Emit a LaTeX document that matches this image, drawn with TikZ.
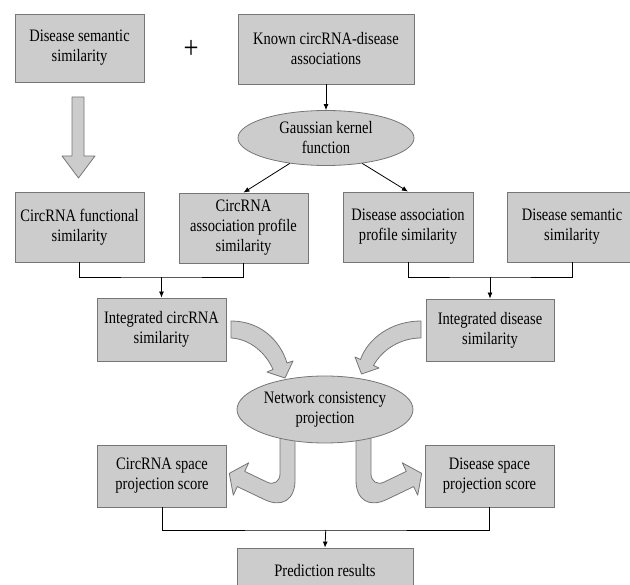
\documentclass[tikz,border=0pt]{standalone}
\usepackage{fontspec}
\setmainfont{Liberation Serif}[FakeStretch=0.83]
\usetikzlibrary{shapes.geometric,arrows.meta}
\definecolor{boxfill}{RGB}{204,204,204}
\definecolor{boxline}{RGB}{118,118,118}
\tikzset{
  box/.style={rectangle, draw=boxline, fill=boxfill, line width=0.8pt, inner sep=0pt, align=center, font=\fontsize{17.5}{20}\selectfont},
  oval/.style={ellipse, draw=boxline, fill=boxfill, line width=0.8pt, inner sep=0pt, align=center, font=\fontsize{17.5}{20}\selectfont},
  blockarrow/.style={draw=boxline, fill=boxfill, line width=0.8pt, line join=round},
  conn/.style={draw=black, line width=0.8pt},
  arr/.style={conn, -{Latex[length=6pt,width=5pt]}}
}
\begin{document}
\begin{tikzpicture}[x=1pt,y=-1pt]
\useasboundingbox (0,0) rectangle (630,585);
\clip (0,0) rectangle (630,585);
% block arrows
\path[blockarrow] (72,97) -- (84,97) -- (84,156) -- (95,156) -- (78.5,178) -- (62,156) -- (72,156) -- cycle;
\path[blockarrow] (231,321) .. controls (260,321) and (280,340) .. (287,363) -- (293,361) -- (285,378) -- (267,372) -- (273,369.5) .. controls (266,353) and (250,339) .. (231,338) -- cycle;
\path[blockarrow] (421,321) .. controls (392,321) and (368,338) .. (360.5,359.5) -- (355,357) -- (361.5,374) -- (379,368) -- (373.5,365.5) .. controls (382,350) and (400,338) .. (421,338) -- cycle;
\path[blockarrow] (280,438) -- (295,438) -- (295,480) .. controls (295,500) and (282,508) .. (264.3,499.5) -- (237.3,486.6) -- (233.3,495.2) -- (229.3,473.4) -- (248.7,462.8) -- (244.7,471.4) -- (267.2,482.2) .. controls (274,485.5) and (280,481) .. (280,474) -- cycle;
\path[blockarrow] (371,438) -- (356,438) -- (356,480) .. controls (356,500) and (369,508) .. (386.7,499.5) -- (413.7,486.6) -- (417.7,495.2) -- (421.7,473.4) -- (402.3,462.8) -- (406.3,471.4) -- (383.8,482.2) .. controls (377,485.5) and (371,481) .. (371,474) -- cycle;
% nodes
\node[box, minimum width=129pt, minimum height=68pt] (ds1) at (79.5,48) {Disease semantic\\similarity};
\node[font=\fontsize{32}{32}\selectfont, inner sep=0pt] (plus) at (191,49) {+};
\node[box, minimum width=176pt, minimum height=70pt] (known) at (326,49) {Known circRNA-disease\\associations};
\node[oval, minimum width=176pt, minimum height=55pt] (gauss) at (326,138) {Gaussian kernel\\function};
\node[box, minimum width=129pt, minimum height=70pt] (cfs) at (79.5,227) {CircRNA functional\\similarity};
\node[box, minimum width=129pt, minimum height=70pt] (caps) at (243.5,228) {CircRNA\\association profile\\similarity};
\node[box, minimum width=130pt, minimum height=70pt] (daps) at (408,227) {Disease association\\profile similarity};
\node[box, minimum width=129pt, minimum height=70pt] (ds2) at (572,227) {Disease semantic\\similarity};
\node[box, minimum width=129pt, minimum height=63pt] (ics) at (161.5,329.5) {Integrated circRNA\\similarity};
\node[box, minimum width=128pt, minimum height=62pt] (ids) at (490,330) {Integrated disease\\similarity};
\node[oval, minimum width=176pt, minimum height=67pt] (ncp) at (325,409.5) {Network consistency\\projection};
\node[box, minimum width=129pt, minimum height=62pt] (css) at (162,476) {CircRNA space\\projection score};
\node[box, minimum width=129pt, minimum height=62pt] (dss) at (489.5,476) {Disease space\\projection score};
\node[box, minimum width=176pt, minimum height=46pt] (pred) at (325,571) {Prediction results};
% junctions
\coordinate (j1) at (161.5,277);
\coordinate (j2) at (490,277);
\coordinate (j3) at (325.75,530);
% connectors
\draw[arr] (known.south) -- (gauss.north);
\draw[arr] (gauss.215) -- (caps.north);
\draw[arr] (gauss.-35) -- (daps.north);
\draw[conn] (cfs.south) |- (j1) -| (caps.south);
\draw[arr] (j1) -- (ics.north);
\draw[conn] (daps.south) |- (j2) -| (ds2.south);
\draw[arr] (j2) -- (ids.north);
\draw[conn] (css.south) |- (j3) -| (dss.south);
\draw[arr] (j3) -- (pred.north);
\end{tikzpicture}
\end{document}
